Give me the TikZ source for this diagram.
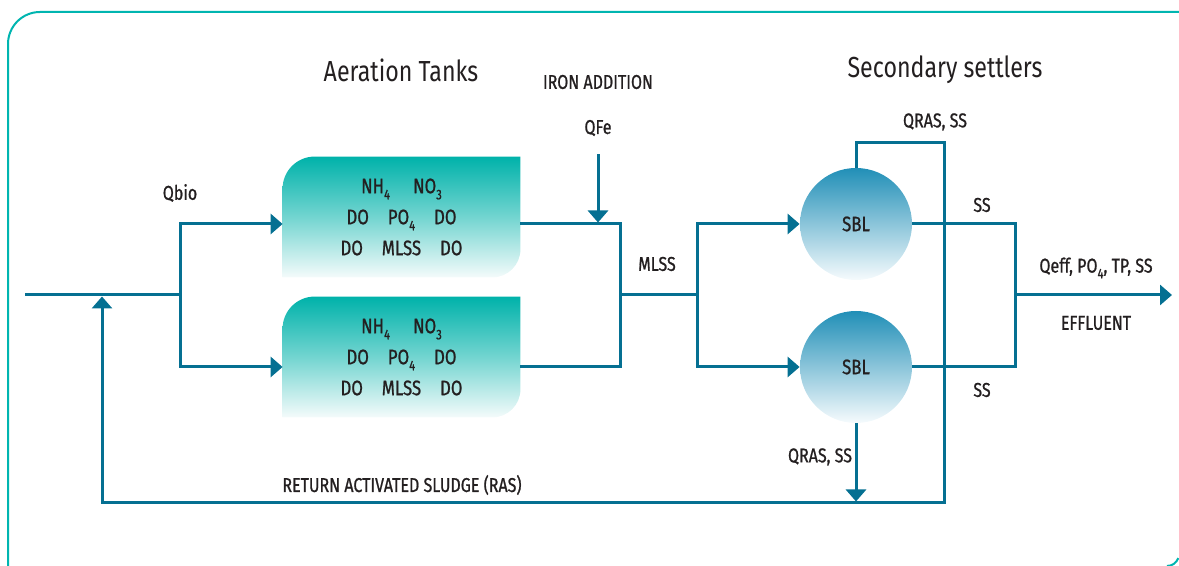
\documentclass[tikz,border=0pt]{standalone}
\usepackage{fontspec}
\setmainfont{Fira Sans}[FakeStretch=0.8]
\newfontfamily\labelfont{Fira Sans}[FakeStretch=0.8,FakeBold=0.9]
\usetikzlibrary{arrows.meta,backgrounds}

\definecolor{flowblue}{RGB}{5,112,146}
\definecolor{framec}{RGB}{0,181,176}
\definecolor{tanktop}{RGB}{0,178,170}
\definecolor{tankbot}{RGB}{244,251,251}
\definecolor{settop}{RGB}{33,143,183}
\definecolor{setbot}{RGB}{246,251,253}
\definecolor{inkgray}{RGB}{35,31,32}

\newcommand{\subn}[1]{\raisebox{-0.55ex}{\fontsize{7}{7}\selectfont #1}}

\tikzset{
  flow/.style={draw=flowblue, line width=1.5pt},
  tip/.style={-{Triangle[length=6pt,width=10pt]}},
  lbl/.style={text=inkgray, font=\labelfont\fontsize{10}{12}\selectfont, inner sep=0pt},
  heading/.style={text=inkgray, font=\fontsize{14.5}{17}\selectfont, inner sep=0pt},
  tank/.style={minimum width=118.5pt, minimum height=60pt, inner sep=0pt,
    align=center, text=inkgray, font=\labelfont\fontsize{10.5}{15.5}\selectfont},
  settler/.style={circle, minimum size=56pt, inner sep=0pt, top color=settop,
    bottom color=setbot, text=inkgray, font=\labelfont\fontsize{10.5}{12}\selectfont}
}

\begin{document}
\begin{tikzpicture}[x=0.5pt,y=0.5pt]
\useasboundingbox (0,0) rectangle (1179,566);

% frame
\draw[framec, line width=1pt] (8,0) -- (8,522) arc[start angle=180,end angle=90,radius=16pt] -- (1179,554);
\draw[framec, line width=1pt] (1167,0) arc[start angle=-90,end angle=-20,radius=6pt];

% headings
\node[heading] (htanks) at (401,496) {Aeration Tanks};
\node[heading] (hsettle) at (945,496) {Secondary settlers};

% tanks
\node[tank] (tank1) at (401.5,349) {NH\subn{4}\hspace{1.1em}NO\subn{3}\\ DO\hspace{0.9em}PO\subn{4}\hspace{0.9em}DO\\ DO\hspace{0.9em}MLSS\hspace{0.9em}DO};
\node[tank] (tank2) at (401.5,209) {NH\subn{4}\hspace{1.1em}NO\subn{3}\\ DO\hspace{0.9em}PO\subn{4}\hspace{0.9em}DO\\ DO\hspace{0.9em}MLSS\hspace{0.9em}DO};
\begin{scope}[on background layer]
\foreach \t in {tank1,tank2}
  \shade[top color=tanktop, bottom color=tankbot, middle color=tanktop!55!white] (\t.south west) -- ([yshift=-16pt]\t.north west)
    arc[start angle=180,end angle=90,radius=16pt] -- (\t.north east) -- ([yshift=14pt]\t.south east)
    arc[start angle=0,end angle=-90,radius=14pt] -- cycle;
\end{scope}

% settlers
\node[settler] (sbl1) at (856,342) {SBL};
\node[settler] (sbl2) at (856,199) {SBL};

% junctions
\coordinate (inlet) at (25,271);
\coordinate (split) at (180,271);
\coordinate (rasin) at (102,271);
\coordinate (mix1) at (620,271);
\coordinate (mix2) at (697,271);
\coordinate (rasA) at (944,423);
\coordinate (rasB) at (944,63);
\coordinate (eff) at (1015,271);
\coordinate (outlet) at (1172,271);

% labels
\node[lbl] (qbio) at (180,373) {Qbio};
\node[lbl] (iron) at (598,484) {IRON ADDITION};
\node[lbl] (qfe) at (598,438) {QFe};
\node[lbl] (mlss) at (657,302) {MLSS};
\node[lbl] (qras1) at (935,444) {QRAS, SS};
\node[lbl] (ss1) at (982,361) {SS};
\node[lbl] (ss2) at (982,176) {SS};
\node[lbl] (qras2) at (820,109) {QRAS, SS};
\node[lbl] (qeff) at (1096,298) {Qeff, PO\subn{4}, TP, SS};
\node[lbl] (effl) at (1096,243) {EFFLUENT};
\node[lbl] (ras) at (402,81) {RETURN ACTIVATED SLUDGE (RAS)};

% influent to tanks
\draw[flow] (inlet) -- (split);
\draw[flow,tip] (split) |- (tank1.west |- sbl1);
\draw[flow,tip] (split) |- (tank2.west |- sbl2);

% tanks to settlers
\draw[flow] (tank1.east |- sbl1) -| (mix1);
\draw[flow] (tank2.east |- sbl2) -| (mix1);
\draw[flow] (mix1) -- (mix2);
\draw[flow,tip] (mix2) |- (sbl1);
\draw[flow,tip] (mix2) |- (sbl2);
\draw[flow,tip,shorten >=0.75pt] ([yshift=-9pt]qfe.south) -- (qfe.south |- sbl1);

% return sludge
\draw[flow,tip,shorten >=0.75pt] (sbl1.north) |- (rasA) -- (rasB) -| (rasin);
\draw[flow,tip,shorten >=0.75pt] (sbl2.south) -- (sbl2.south |- rasB);

% effluent
\draw[flow] (sbl1.east) -| (eff);
\draw[flow] (sbl2.east) -| (eff);
\draw[flow,tip] (eff) -- (outlet);

\end{tikzpicture}
\end{document}
